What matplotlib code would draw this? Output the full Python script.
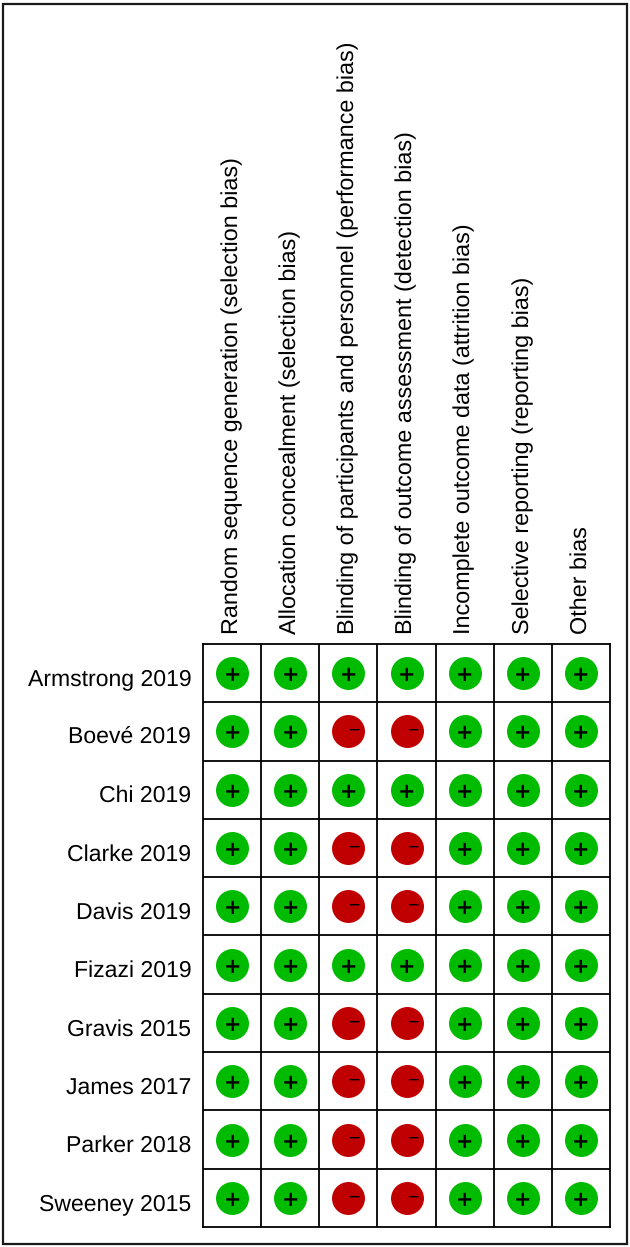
import matplotlib
matplotlib.use('Agg')
from matplotlib import pyplot as plt
from matplotlib.patches import Rectangle
from matplotlib.transforms import ScaledTranslation
import numpy as np

plt.rcParams['font.family'] = ['Liberation Sans', 'DejaVu Sans']
plt.rcParams['text.hinting'] = 'none'

studies = ['Armstrong 2019', 'Boevé 2019', 'Chi 2019', 'Clarke 2019', 'Davis 2019',
           'Fizazi 2019', 'Gravis 2015', 'James 2017', 'Parker 2018', 'Sweeney 2015']
domains = ['Random sequence generation (selection bias)',
           'Allocation concealment (selection bias)',
           'Blinding of participants and personnel (performance bias)',
           'Blinding of outcome assessment (detection bias)',
           'Incomplete outcome data (attrition bias)',
           'Selective reporting (reporting bias)',
           'Other bias']

# one list per domain, + is low risk and - is high risk
random_seq = ['+', '+', '+', '+', '+', '+', '+', '+', '+', '+']
allocation = ['+', '+', '+', '+', '+', '+', '+', '+', '+', '+']
blind_part = ['+', '-', '+', '-', '-', '+', '-', '-', '-', '-']
blind_out = ['+', '-', '+', '-', '-', '+', '-', '-', '-', '-']
incomplete = ['+', '+', '+', '+', '+', '+', '+', '+', '+', '+']
selective = ['+', '+', '+', '+', '+', '+', '+', '+', '+', '+']
other = ['+', '+', '+', '+', '+', '+', '+', '+', '+', '+']
ratings = [random_seq, allocation, blind_part, blind_out, incomplete, selective, other]

W, H = 630, 1247
fig = plt.figure(figsize=(W/100, H/100), dpi=100)
fig.patches.append(Rectangle((3/W, 3/H), 624/W, 1240/H, transform=fig.transFigure,
                             fill=False, ec='#1a1a1a', lw=1.6))

ax = fig.add_axes([203/W, 1-1227/H, 407/W, 583/H])
ax.set_xlim(0, len(domains))
ax.set_ylim(len(studies), 0)
ax.set_xticks(np.arange(len(domains))+0.5)
ax.set_yticks(np.arange(len(studies))+0.5)
ax.set_xticklabels(domains, rotation=90, ha='center', va='bottom', fontsize=16.8)
ax.set_yticklabels(studies, fontsize=16.6)
ax.xaxis.tick_top()
ax.tick_params(length=0, pad=7.5)
ax.tick_params(axis='y', pad=8.5)
# study names sit a little below the circle centres
down = ScaledTranslation(0, -3/72, fig.dpi_scale_trans)
for t in ax.get_yticklabels():
    t.set_transform(t.get_transform()+down)
for i in range(1, len(domains)):
    ax.axvline(i, color='black', lw=1.3)
for i in range(1, len(studies)):
    ax.axhline(i, color='black', lw=1.3)
for s in ax.spines.values():
    s.set_linewidth(1.3)

for c, col in enumerate(ratings):
    for r, val in enumerate(col):
        if val == '+':
            ax.scatter(c+0.5, r+0.5, s=564, color='#00bb00', linewidths=0, zorder=3)
            ax.text(c+0.5, r+0.5, '+', fontsize=15, fontweight='bold', color='black',
                    family='DejaVu Sans', ha='center', va='center_baseline', zorder=4)
        else:
            ax.scatter(c+0.5, r+0.5, s=564, color='#c00000', linewidths=0, zorder=3)
            ax.text(c+0.6, r+0.46, '\u2212', fontsize=14, color='black',
                    ha='center', va='center_baseline', zorder=4)

fig.savefig('out.png', dpi=100)
